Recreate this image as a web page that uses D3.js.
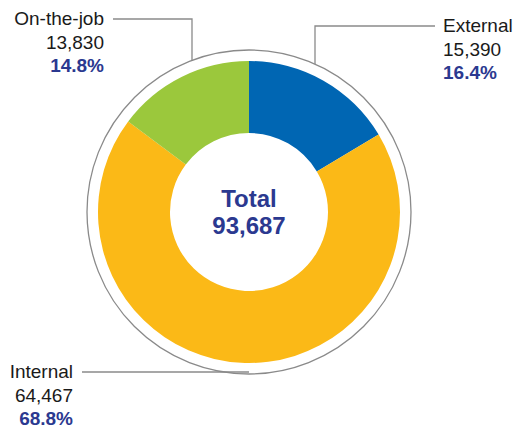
<!DOCTYPE html>
<html>
<head>
<meta charset="utf-8">
<script src="https://cdn.jsdelivr.net/npm/d3@7"></script>
<style>
  body { margin: 0; background: #fff; }
  svg text { font-family: "Liberation Sans", Arial, sans-serif; }
</style>
</head>
<body>
<div id="chart"></div>
<script>
// data
let categories = ['External', 'Internal', 'On-the-job'];
let counts = [15390, 64467, 13830];
let shares = ['16.4%', '68.8%', '14.8%'];
let total = 93687;
let colors = ['#0066b3', '#fbb917', '#9bc83c'];

let width = 517, height = 430;
let cx = 249, cy = 212;
let outerR = 151, innerR = 79, ringR = 162;

let svg = d3.select('#chart')
    .append('svg')
    .attr('width', width)
    .attr('height', height);

let pie = d3.pie().sort(null).value(d => d);
let arc = d3.arc().innerRadius(innerR).outerRadius(outerR);

let g = svg.append('g').attr('transform', `translate(${cx},${cy})`);

// thin outline ring
g.append('circle')
    .attr('r', ringR)
    .attr('fill', 'none')
    .attr('stroke', '#8a8a8a')
    .attr('stroke-width', 1.3);

g.selectAll('path.slice')
    .data(pie(counts))
    .join('path')
    .attr('class', 'slice')
    .attr('d', arc)
    .attr('fill', (d, i) => colors[i]);

// centre label
g.append('text')
    .attr('text-anchor', 'middle')
    .attr('y', -5)
    .attr('font-size', 24)
    .attr('font-weight', 'bold')
    .attr('fill', '#2b3990')
    .text('Total');
g.append('text')
    .attr('text-anchor', 'middle')
    .attr('y', 22)
    .attr('font-size', 24)
    .attr('font-weight', 'bold')
    .attr('fill', '#2b3990')
    .text(d3.format(',')(total));

// leader lines and label positions
let labels = [
    {i: 0, lx: 315, ly: 26, tx: 443, anchor: 'start', by: 32, hx: 435},
    {i: 1, lx: null, ly: 372, tx: 73, anchor: 'end', by: 378, hx: 82},
    {i: 2, lx: 192, ly: 19, tx: 104, anchor: 'end', by: 25, hx: 113}
];

let lineG = svg.append('g');
labels.forEach(l => {
    let pts;
    if (l.lx === null) {
        pts = [[l.hx, l.ly], [cx, l.ly]];
    } else {
        let dx = l.lx - cx;
        let yOnRing = cy - Math.sqrt(ringR * ringR - dx * dx);
        pts = [[l.hx, l.ly], [l.lx, l.ly], [l.lx, yOnRing]];
    }
    lineG.append('path')
        .attr('d', d3.line()(pts))
        .attr('fill', 'none')
        .attr('stroke', '#8a8a8a')
        .attr('stroke-width', 1.3);

    let t = svg.append('g');
    t.append('text')
        .attr('x', l.tx).attr('y', l.by)
        .attr('text-anchor', l.anchor)
        .attr('font-size', 19)
        .attr('fill', '#1a1a1a')
        .text(categories[l.i]);
    t.append('text')
        .attr('x', l.tx).attr('y', l.by + 24)
        .attr('text-anchor', l.anchor)
        .attr('font-size', 19)
        .attr('fill', '#1a1a1a')
        .text(d3.format(',')(counts[l.i]));
    t.append('text')
        .attr('x', l.tx).attr('y', l.by + 47)
        .attr('text-anchor', l.anchor)
        .attr('font-size', 19)
        .attr('font-weight', 'bold')
        .attr('fill', '#2b3990')
        .text(shares[l.i]);
});
</script>
</body>
</html>
